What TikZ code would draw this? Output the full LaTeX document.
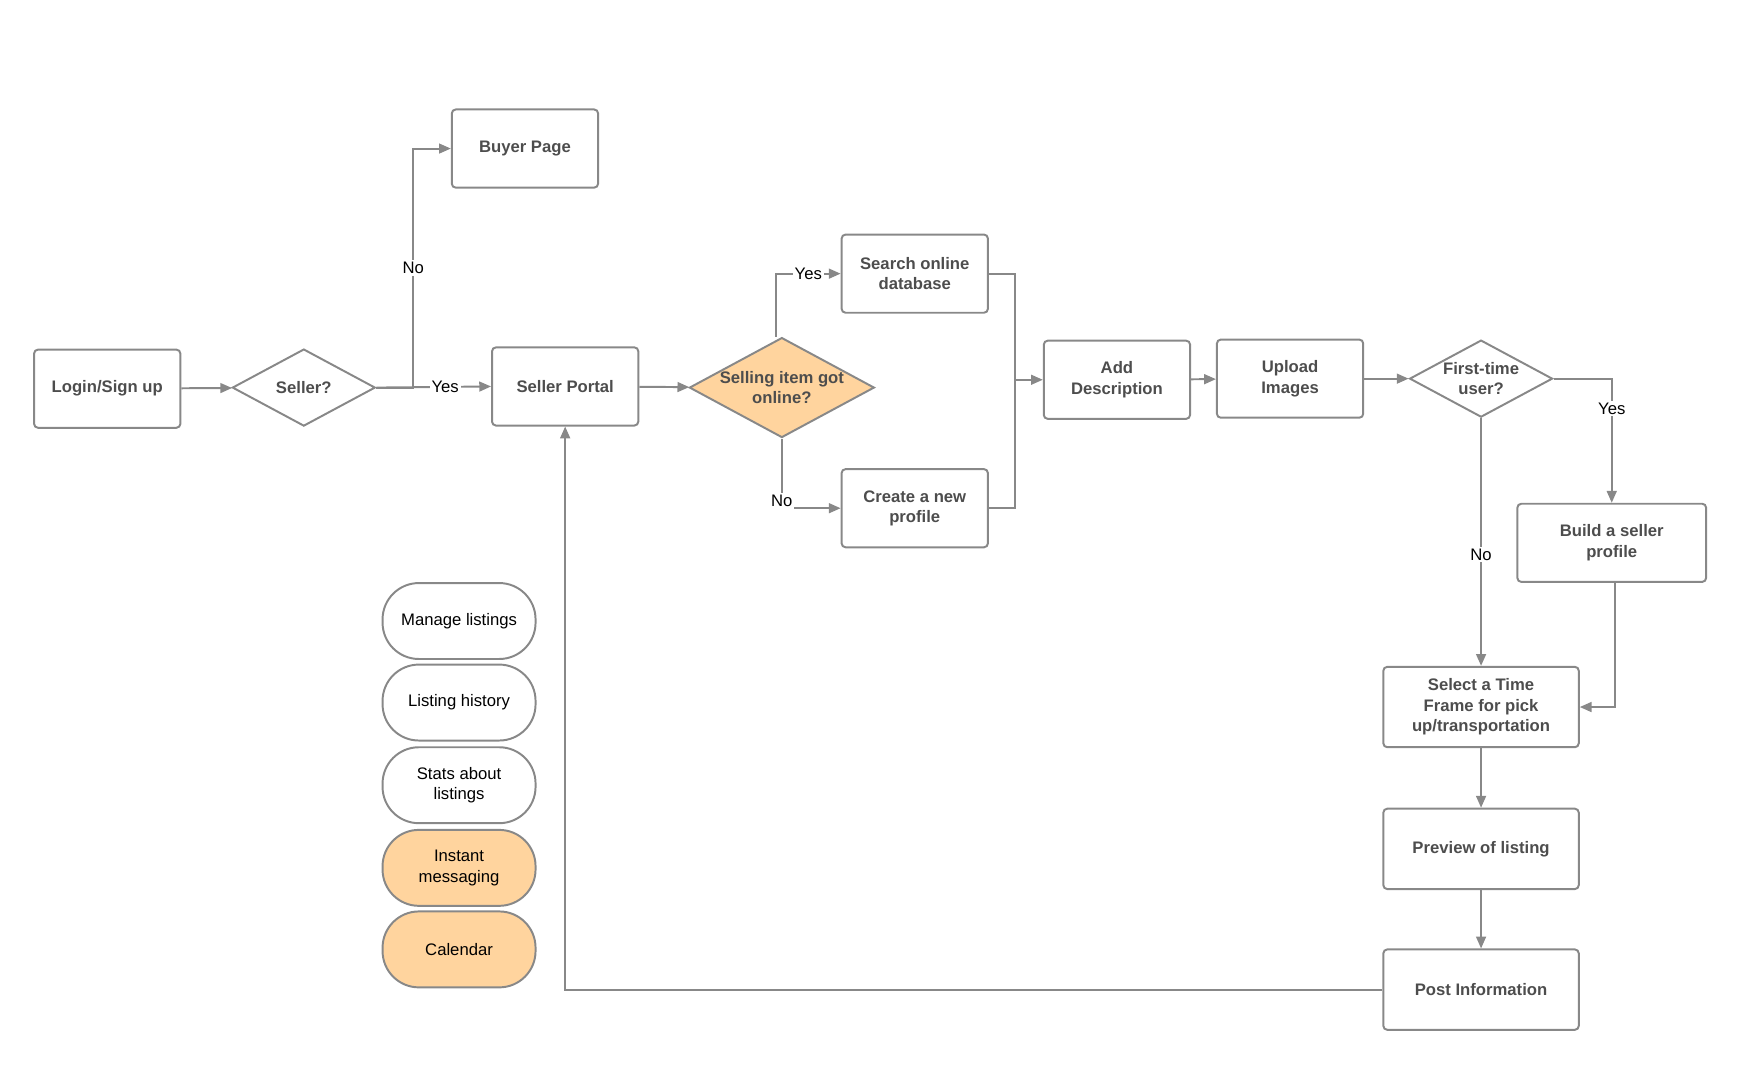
\documentclass[tikz,border=0pt]{standalone}
\usepackage{fontspec}
\setmainfont{Liberation Sans}
\usetikzlibrary{shapes.geometric,arrows.meta,positioning}
\definecolor{edge}{HTML}{888888}
\definecolor{txt}{HTML}{4D4D4D}
\definecolor{peach}{HTML}{FFD49E}
\tikzset{
  box/.style={draw=edge, line width=1pt, rounded corners=2pt, minimum width=2.62cm,
    minimum height=1.4cm, align=center, text=txt, font=\fontsize{8.5}{10.5}\selectfont\bfseries},
  dec/.style={draw=edge, line width=1pt, diamond, aspect=1.85, inner sep=0pt,
    minimum width=2.56cm, minimum height=1.38cm, align=center, text=txt,
    font=\fontsize{8.5}{10.5}\selectfont\bfseries},
  pill/.style={draw=edge, line width=1pt, rounded corners=0.65cm, minimum width=2.74cm,
    minimum height=1.36cm, align=center, font=\fontsize{8.5}{10.5}\selectfont},
  lbl/.style={fill=white, inner sep=1pt, font=\fontsize{8.5}{10.5}\selectfont},
  link/.style={draw=edge, line width=1pt, -{Triangle[length=6pt,width=5pt]}}
}
\begin{document}
\begin{tikzpicture}[x=0.02cm, y=-0.02cm]
\useasboundingbox (0,0) rectangle (1565,960);
% first row
\node[box] (login) at (96,348) {Login/Sign up};
\node[dec] (seller) at (272,347) {Seller?};
\node[box] (buyer) at (470,133) {Buyer Page};
\node[box] (portal) at (506,346) {Seller Portal};
\node[dec, fill=peach, minimum width=3.04cm, minimum height=1.66cm] (online) at (700,347) {Selling item got\\online?};
\node[box] (search) at (819,245) {Search online\\database};
\node[box] (create) at (819,455) {Create a new\\profile};
\node[box] (descr) at (1000,340) {Add\\Description};
\node[box] (upload) at (1155,339) {Upload\\Images};
\node[dec] (first) at (1326,339) {First-time\\user?};
\node[box, minimum width=3.38cm] (build) at (1443,486) {Build a seller\\profile};
\node[box, minimum width=3.5cm, minimum height=1.44cm] (frame) at (1326,633) {Select a Time\\Frame for pick\\up/transportation};
\node[box, minimum width=3.5cm, minimum height=1.44cm] (preview) at (1326,760) {Preview of listing};
\node[box, minimum width=3.5cm, minimum height=1.44cm] (post) at (1326,886) {Post Information};
% seller tools
\node[pill] (manage) at (411,556) {Manage listings};
\node[pill] (history) at (411,629) {Listing history};
\node[pill] (stats) at (411,703) {Stats about\\listings};
\node[pill, fill=peach] (chat) at (411,777) {Instant\\messaging};
\node[pill, fill=peach] (calendar) at (411,850) {Calendar};
% connectors
\coordinate (j1) at (370,347);
\coordinate (j2) at (909,340);
\draw[link] (login) -- (seller);
\draw[link] (seller.east) -- (j1) |- node[lbl, pos=0.25] {No} (buyer.west);
\draw[link] (seller.east) -- node[lbl, pos=0.6] {Yes} (portal.west);
\draw[link] (portal) -- (online);
\draw[link] ([xshift=-3pt]online.north) |- node[lbl, pos=0.75] {Yes} (search.west);
\draw[link] (online.south) |- node[lbl, pos=0.45] {No} (create.west);
\draw[draw=edge, line width=1pt] (search.east) -| (j2);
\draw[draw=edge, line width=1pt] (create.east) -| (j2);
\draw[link] (j2) -- (descr.west);
\draw[link] (descr) -- (upload);
\draw[link] (upload) -- (first);
\draw[link] (first.east) -| node[lbl, pos=0.62] {Yes} (build.north);
\draw[link] (first.south) -- node[lbl, pos=0.55] {No} (frame.north);
\draw[link] ([xshift=0.06cm]build.south) |- (frame.east);
\draw[link] (frame) -- (preview);
\draw[link] (preview) -- (post);
\draw[link] (post.west) -| (portal.south);
\end{tikzpicture}
\end{document}
